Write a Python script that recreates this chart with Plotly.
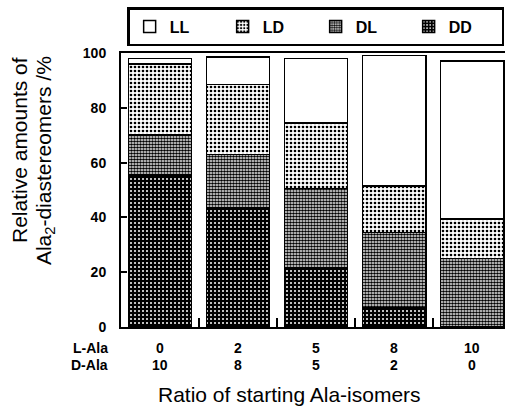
import plotly.graph_objects as go

# Starting ratios of the Ala isomers (one bar per mixture)
l_ala = [0, 2, 5, 8, 10]
d_ala = [10, 8, 5, 2, 0]
categories = ["0:10", "2:8", "5:5", "8:2", "10:0"]

# Relative amounts of each Ala2 diastereomer (%), stacked bottom -> top
dd = [55.5, 43.5, 21.5, 7.0, 0.0]
dl = [14.5, 19.5, 29.0, 27.5, 25.0]
ld = [26.0, 25.5, 24.0, 17.0, 14.5]
ll = [2.0, 10.0, 23.5, 47.5, 57.5]

FONT = "Liberation Sans, Arial, Helvetica, sans-serif"

series = [
    ("LL", ll, dict(shape="", bgcolor="white", fgcolor="black", size=4, solidity=0.3)),
    ("LD", ld, dict(shape=".", bgcolor="white", fgcolor="black", size=4, solidity=0.35)),
    ("DL", dl, dict(shape=".", bgcolor="white", fgcolor="black", size=3, solidity=0.65)),
    ("DD", dd, dict(shape=".", bgcolor="black", fgcolor="white", size=4, solidity=0.2)),
]

fig = go.Figure()
# draw stack from bottom (DD) upward, keep legend order LL, LD, DL, DD
for rank, (name, vals, pat) in enumerate(reversed(series)):
    fig.add_trace(go.Bar(
        x=categories, y=vals, name=name,
        marker=dict(color=pat["bgcolor"], line=dict(color="black", width=1.5),
                    pattern=dict(fillmode="replace", **pat)),
        legendrank=4 - rank,
    ))

fig.update_layout(
    barmode="stack",
    bargap=0.19,
    width=506, height=410,
    margin=dict(l=121, r=1, t=53, b=83),
    paper_bgcolor="white", plot_bgcolor="white",
    font=dict(family=FONT, color="black"),
    showlegend=True,
    legend=dict(
        orientation="h", x=0.016, xanchor="left", y=1.025, yanchor="bottom",
        bordercolor="black", borderwidth=2.5, bgcolor="white",
        font=dict(size=16, family=FONT, weight="bold"),
        entrywidth=48, traceorder="normal",
    ),
)

fig.update_xaxes(
    range=[-0.5, 4.42],
    showline=True, linecolor="black", linewidth=2, mirror=True,
    ticks="inside", tickson="boundaries", ticklen=9, tickwidth=2, tickcolor="black",
    showticklabels=False, showgrid=False, zeroline=False,
)
fig.update_yaxes(
    range=[0, 100], tickvals=[0, 20, 40, 60, 80, 100],
    showline=True, linecolor="black", linewidth=2,
    ticks="inside", ticklen=6, tickwidth=1.5, tickcolor="black",
    tickfont=dict(size=14, family=FONT, weight="bold"),
    ticklabelstandoff=10,
    showgrid=False, zeroline=False,
)

# ratio rows beneath the bars
row_y = {"L-Ala": -0.078, "D-Ala": -0.14}
for label, vals in (("L-Ala", l_ala), ("D-Ala", d_ala)):
    fig.add_annotation(x=-0.029, y=row_y[label], xref="paper", yref="paper",
                       text=label, showarrow=False, xanchor="right", yanchor="middle",
                       font=dict(size=14, family=FONT, weight="bold"))
    for cat, v in zip(categories, vals):
        fig.add_annotation(x=cat, y=row_y[label], xref="x", yref="paper",
                           text=str(v), showarrow=False, xanchor="center", yanchor="middle",
                           font=dict(size=14, family=FONT, weight="bold"))

# axis titles
fig.add_annotation(x=0.439, y=-0.245, xref="paper", yref="paper",
                   text="Ratio of starting Ala-isomers", showarrow=False,
                   xanchor="center", yanchor="middle", font=dict(size=21, family=FONT))
fig.add_annotation(x=-0.263, y=0.646, xref="paper", yref="paper",
                   text="Relative amounts of", showarrow=False, textangle=-90,
                   xanchor="center", yanchor="middle", font=dict(size=21, family=FONT))
fig.add_annotation(x=-0.198, y=0.609, xref="paper", yref="paper",
                   text="Ala<sub>2</sub>-diastereomers /%", showarrow=False, textangle=-90,
                   xanchor="center", yanchor="middle", font=dict(size=21, family=FONT))

fig.write_html("out.html")
